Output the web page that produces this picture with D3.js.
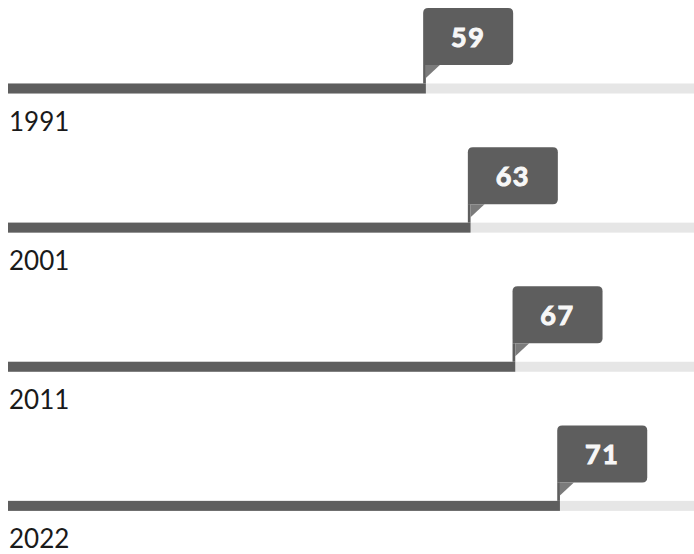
<!DOCTYPE html>
<html>
<head>
<meta charset="utf-8">
<script src="https://cdn.jsdelivr.net/npm/d3@7"></script>
<style>
  html, body { margin: 0; padding: 0; background: #fff; }
  svg { display: block; }
</style>
</head>
<body>
<svg id="chart" width="694" height="554"></svg>
<script>
const years = ["1991", "2001", "2011", "2022"];
const values = [59, 63, 67, 71];
const domainMin = 21.6;
const domainMax = 83;

const W = 694, H = 554;
const svg = d3.select("#chart");

const x = d3.scaleLinear().domain([domainMin, domainMax]).range([8, 694]);
const y = d3.scaleBand().domain(years).range([8, 564.5]).paddingInner(0).paddingOuter(0);

const barH = 10;
const barOffset = 75.5;   // bar top relative to band start
const boxH = 57, boxW = 90, r = 5, stripW = 2.7;

const g = svg.append("g");
const rows = g.selectAll("g.row").data(years.map((yr, i) => ({ yr, v: values[i] })))
  .enter().append("g").attr("class", "row")
  .attr("transform", d => `translate(0,${y(d.yr)})`);

// background track
rows.append("rect")
  .attr("x", x(domainMin)).attr("y", barOffset)
  .attr("width", x(domainMax) - x(domainMin)).attr("height", barH)
  .attr("fill", "#e6e6e6");

// value bar
rows.append("rect")
  .attr("x", x(domainMin)).attr("y", barOffset)
  .attr("width", d => x(d.v) - x(domainMin)).attr("height", barH)
  .attr("fill", "#5e5e5e");

// callout box
rows.append("path")
  .attr("fill", "#5e5e5e")
  .attr("d", d => {
    const x0 = x(d.v) - stripW, x1 = x0 + boxW, y0 = 0, y1 = boxH;
    return `M${x0},${y0 + r} Q${x0},${y0} ${x0 + r},${y0} L${x1 - r},${y0} Q${x1},${y0} ${x1},${y0 + r}` +
      ` L${x1},${y1 - r} Q${x1},${y1} ${x1 - r},${y1} L${x0},${y1} Z`;
  });

// strip connecting box to bar
rows.append("rect")
  .attr("x", d => x(d.v) - stripW).attr("y", boxH)
  .attr("width", stripW).attr("height", barOffset - boxH)
  .attr("fill", "#5e5e5e");

// lighter tail triangle
rows.append("path")
  .attr("fill", "#7b7b7b")
  .attr("d", d => {
    const xe = x(d.v);
    return `M${xe},${boxH} L${xe + 14},${boxH} L${xe},${boxH + 13} Z`;
  });

// value label
rows.append("text")
  .attr("x", d => x(d.v) - stripW + boxW / 2)
  .attr("y", boxH / 2 + 10)
  .attr("text-anchor", "middle")
  .attr("font-family", "Lato, 'Open Sans', sans-serif")
  .attr("font-weight", 700)
  .attr("font-size", 27)
  .attr("letter-spacing", 1.5)
  .attr("fill", "#f7f7f7")
  .attr("stroke", "#f7f7f7")
  .attr("stroke-width", 1)
  .text(d => d.v);

// year label
rows.append("text")
  .attr("x", 9)
  .attr("y", barOffset + 47.5)
  .attr("font-family", "Lato, 'Open Sans', sans-serif")
  .attr("font-size", 26)
  .attr("fill", "#1a1a1a")
  .text(d => d.yr);
</script>
</body>
</html>
